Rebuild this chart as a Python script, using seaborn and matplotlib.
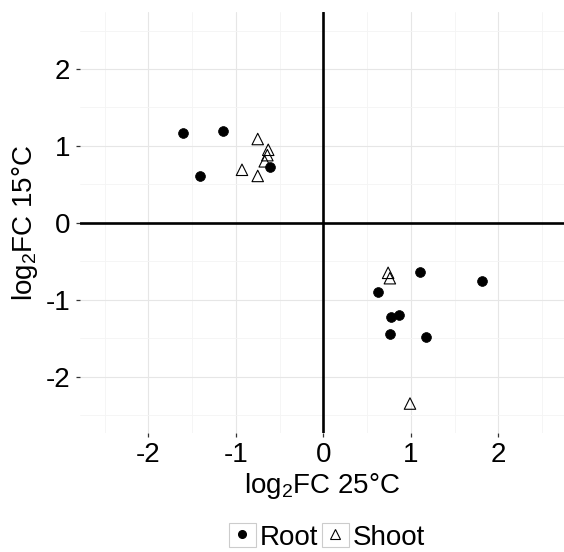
import matplotlib
matplotlib.use("Agg")
import matplotlib.pyplot as plt
from matplotlib.ticker import MultipleLocator
from matplotlib.patches import Rectangle
from matplotlib.lines import Line2D
import seaborn as sns
import pandas as pd

# log2 fold changes at 25 °C (x) and 15 °C (y)
root_x = [-1.60, -1.15, -1.41, -0.61, 1.11, 1.81, 0.625, 0.77, 0.86, 0.76, 1.17]
root_y = [1.17, 1.19, 0.61, 0.72, -0.64, -0.75, -0.90, -1.23, -1.20, -1.45, -1.48]
shoot_x = [-0.75, -0.63, -0.64, -0.67, -0.93, -0.75, 0.74, 0.76, 0.99]
shoot_y = [1.09, 0.95, 0.88, 0.80, 0.69, 0.61, -0.65, -0.72, -2.35]
tissues = ["Root", "Shoot"]
ticks = [-2, -1, 0, 1, 2]

df = pd.concat([
    pd.DataFrame({"fc25": root_x, "fc15": root_y, "tissue": tissues[0]}),
    pd.DataFrame({"fc25": shoot_x, "fc15": shoot_y, "tissue": tissues[1]}),
])

sns.set_style("white")
plt.rcParams["font.family"] = ["Liberation Sans", "DejaVu Sans"]
plt.rcParams["mathtext.default"] = "regular"
plt.rcParams["axes.unicode_minus"] = False
plt.rcParams["text.color"] = "black"
plt.rcParams["axes.labelcolor"] = "black"

fig = plt.figure(figsize=(5.64, 5.52), dpi=100)
ax = fig.add_axes([0.142, 0.216, 0.858, 0.762])

# reference lines through the origin
ax.axhline(0, color="black", lw=1.9, zorder=2)
ax.axvline(0, color="black", lw=1.9, zorder=2)

sns.scatterplot(data=df[df.tissue == "Root"], x="fc25", y="fc15", ax=ax,
                marker="o", s=50, color="black", edgecolor="black",
                linewidth=0.5, legend=False, zorder=3)
sns.scatterplot(data=df[df.tissue == "Shoot"], x="fc25", y="fc15", ax=ax,
                marker="^", s=68, facecolor="none", edgecolor="black",
                linewidth=0.8, legend=False, zorder=4)

ax.set_xlim(-2.78, 2.75)
ax.set_ylim(-2.73, 2.74)
ax.set_xticks(ticks)
ax.set_yticks(ticks)
ax.xaxis.set_minor_locator(MultipleLocator(0.5))
ax.yaxis.set_minor_locator(MultipleLocator(0.5))
ax.grid(which="major", color="#e6e6e6", lw=0.8, zorder=0)
ax.grid(which="minor", color="#f4f4f4", lw=0.6, zorder=0)
ax.set_axisbelow(True)
for sp in ax.spines.values():
    sp.set_visible(False)
ax.tick_params(which="major", bottom=True, left=True, length=3, width=0.9,
               color="#333333", labelsize=20, labelcolor="black", pad=4,
               direction="out")
ax.tick_params(which="minor", length=0)

ax.set_xlabel("log$_2$FC 25°C", fontsize=20, labelpad=2, color="black")
ax.set_ylabel("log$_2$FC 15°C", fontsize=20, labelpad=4, color="black")

key = dict(facecolor="white", edgecolor="#cccccc", lw=0.8)
handles = [
    (Rectangle((0, 0), 1, 1, **key),
     Line2D([], [], marker="o", ls="none", color="black", markersize=5.5)),
    (Rectangle((0, 0), 1, 1, **key),
     Line2D([], [], marker="^", ls="none", markerfacecolor="none",
            markeredgecolor="black", markersize=7.5, markeredgewidth=0.8)),
]
fig.legend(handles, tissues, loc="center", bbox_to_anchor=(0.58, 0.027),
           ncol=2, frameon=False, fontsize=20, handlelength=0.95,
           handleheight=0.95, handletextpad=0.15, columnspacing=0.15,
           borderaxespad=0, labelcolor="black")

fig.savefig("out.png", dpi=100)
